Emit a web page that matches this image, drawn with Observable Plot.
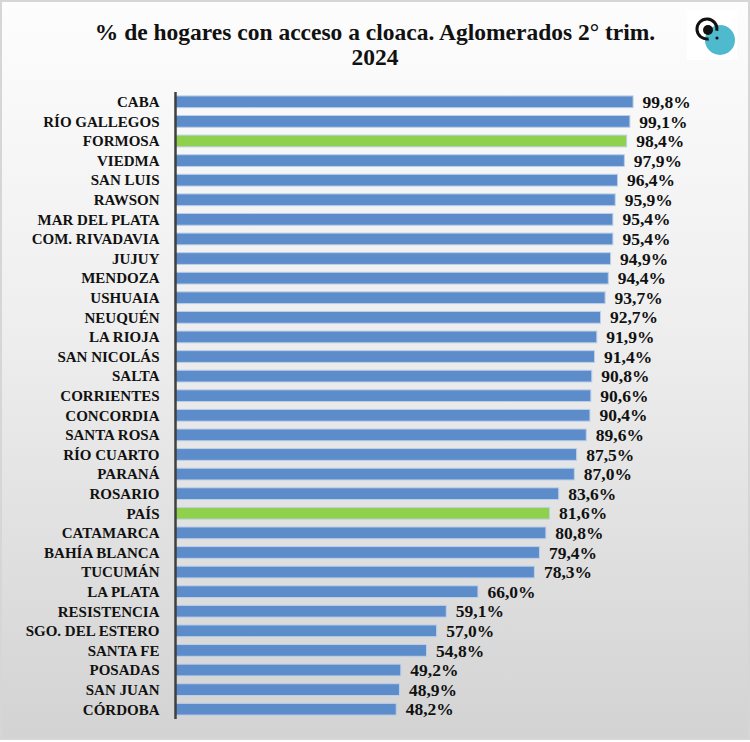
<!DOCTYPE html>
<html>
<head>
<meta charset="utf-8">
<script src="https://cdn.jsdelivr.net/npm/d3@7"></script>
<script src="https://cdn.jsdelivr.net/npm/@observablehq/plot@0.6"></script>
<style>
  html, body { margin: 0; padding: 0; }
  body { width: 750px; height: 742px; overflow: hidden; }
  #frame {
    position: relative; width: 746px; height: 736px;
    border: 2px solid #d6d6d6;
    background: linear-gradient(to bottom, #fdfdfd 0%, #eeeeee 45%, #d3d3d3 100%);
    font-family: "Liberation Serif", serif;
  }
  #title {
    height: 83px; margin: 0; box-sizing: border-box; padding-top: 18px;
    text-align: center; font-weight: bold; font-size: 23.5px; line-height: 25px; color: #111;
  }
  #logo { position: absolute; left: 685px; top: 8px; }
  #chart svg { display: block; }
  #chart svg text { font-family: "Liberation Serif", serif !important; }
</style>
</head>
<body>
<div id="frame">
  <div id="title">% de hogares con acceso a cloaca. Aglomerados 2° trim.<br>2024</div>
  <svg id="logo" width="50" height="50" viewBox="0 0 50 50">
    <rect x="0" y="0" width="50" height="50" fill="#ffffff"/>
    <circle cx="33" cy="30" r="15" fill="#4fb9cd"/>
    <path d="M 29.8 20.7 A 10 10 0 1 0 21.7 28.9" fill="none" stroke="#111" stroke-width="3"/>
    <circle cx="21" cy="20" r="5" fill="#111"/>
    <circle cx="30" cy="28" r="1.6" fill="#111"/>
  </svg>
  <div id="chart"></div>
</div>
<script>
const names = ["CABA","RÍO GALLEGOS","FORMOSA","VIEDMA","SAN LUIS","RAWSON","MAR DEL PLATA","COM. RIVADAVIA","JUJUY","MENDOZA","USHUAIA","NEUQUÉN","LA RIOJA","SAN NICOLÁS","SALTA","CORRIENTES","CONCORDIA","SANTA ROSA","RÍO CUARTO","PARANÁ","ROSARIO","PAÍS","CATAMARCA","BAHÍA BLANCA","TUCUMÁN","LA PLATA","RESISTENCIA","SGO. DEL ESTERO","SANTA FE","POSADAS","SAN JUAN","CÓRDOBA"];
const values = [99.8,99.1,98.4,97.9,96.4,95.9,95.4,95.4,94.9,94.4,93.7,92.7,91.9,91.4,90.8,90.6,90.4,89.6,87.5,87.0,83.6,81.6,80.8,79.4,78.3,66.0,59.1,57.0,54.8,49.2,48.9,48.2];
const highlighted = ["FORMOSA","PAÍS"];

const blue = "#5d8cca";
const green = "#8fd14d";
const serif = "Liberation Serif, serif";
const data = names.map((n, i) => ({name: n, value: values[i]}));
const fmt = v => v.toFixed(1).replace(".", ",") + "%";

const chart = Plot.plot({
  width: 746,
  height: 651,
  marginLeft: 173,
  marginRight: 114,
  marginTop: 7,
  marginBottom: 17,
  style: {background: "transparent", fontFamily: serif, color: "#111"},
  x: {domain: [0, 100], axis: null},
  y: {domain: names, paddingInner: 0.4, paddingOuter: 0.2, round: false, axis: null},
  marks: [
    Plot.barX(data, {x: "value", y: "name", fill: d => highlighted.includes(d.name) ? green : blue, stroke: "#bcd0ea", strokeWidth: 1}),
    Plot.text(data, {x: "value", y: "name", text: d => fmt(d.value), dx: 9, textAnchor: "start", fontSize: 17.5, fontWeight: "bold", fontFamily: serif, fill: "#111"}),
    Plot.ruleX([0], {stroke: "#404040", strokeWidth: 2.5}),
    Plot.axisY({tickSize: 0, tickPadding: 16, fontSize: 15, fontWeight: "bold", fontFamily: serif, label: null, color: "#111"})
  ]
});
document.getElementById("chart").appendChild(chart);
</script>
</body>
</html>
